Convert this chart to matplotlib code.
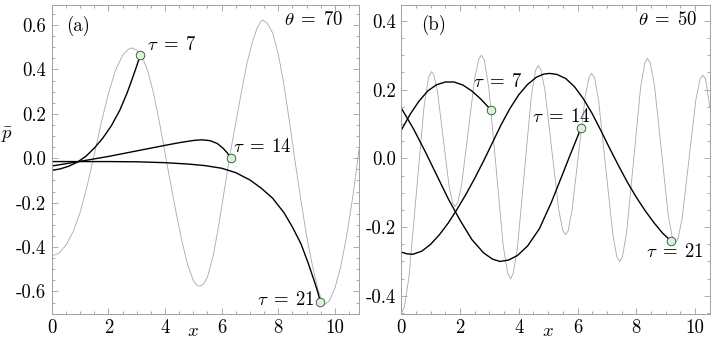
import matplotlib
matplotlib.use("Agg")
import matplotlib.pyplot as plt
from matplotlib.ticker import FixedLocator, MultipleLocator

plt.rcParams['font.family'] = 'serif'
plt.rcParams['font.serif'] = ['cmr10']
plt.rcParams['mathtext.fontset'] = 'cm'
plt.rcParams['axes.unicode_minus'] = False

# ---------------- Panel (a), theta = 70 ----------------
a_grey_x = [0, 0.25, 0.5, 0.75, 1.0, 1.25, 1.5, 1.75, 2.0, 2.25, 2.5, 2.7, 2.82,
            3.0, 3.2, 3.4, 3.6, 3.8, 4.0, 4.2, 4.4, 4.6, 4.8, 5.0, 5.12, 5.22,
            5.35, 5.5, 5.7, 5.9, 6.1, 6.3, 6.5, 6.7, 6.9, 7.1, 7.25, 7.37, 7.45,
            7.6, 7.8, 8.0, 8.2, 8.4, 8.6, 8.8, 9.0, 9.2, 9.4, 9.55, 9.65,
            9.8, 10.0, 10.2, 10.4, 10.6, 10.75, 10.85]
a_grey_y = [-0.44, -0.428, -0.392, -0.333, -0.245, -0.125, 0.015, 0.16, 0.29, 0.395, 0.463,
            0.49, 0.497,
            0.487, 0.455, 0.39, 0.29, 0.165, 0.025, -0.115, -0.25, -0.375, -0.48, -0.55,
            -0.571, -0.576,
            -0.568, -0.535, -0.44, -0.30, -0.14, 0.02, 0.16, 0.30, 0.43, 0.53, 0.585, 0.613,
            0.622,
            0.61, 0.565, 0.47, 0.33, 0.16, -0.02, -0.19, -0.35, -0.48, -0.59, -0.645, -0.658,
            -0.643, -0.585, -0.49, -0.36, -0.20, -0.06, 0.04]

a_t7_x = [0, 0.3, 0.6, 0.9, 1.2, 1.5, 1.8, 2.1, 2.4, 2.65, 2.85, 3.0, 3.13]
a_t7_y = [-0.055, -0.048, -0.036, -0.018, 0.008, 0.045, 0.090, 0.145, 0.215, 0.290, 0.360,
          0.415, 0.465]
a_t14_x = [0, 1.0, 2.0, 3.0, 4.0, 4.5, 5.0, 5.3, 5.6, 5.85, 6.05, 6.2, 6.32]
a_t14_y = [-0.035, -0.014, 0.008, 0.033, 0.058, 0.070, 0.080, 0.083, 0.079, 0.066, 0.045,
           0.024, 0.0]
a_t21_x = [0, 1, 2, 3, 4, 4.8, 5.4, 6.0, 6.5, 7.0, 7.4, 7.8, 8.2, 8.5, 8.8, 9.05, 9.25, 9.4, 9.49]
a_t21_y = [-0.015, -0.015, -0.015, -0.016, -0.020, -0.026, -0.033, -0.045, -0.065, -0.098,
           -0.135, -0.180, -0.245, -0.310, -0.385, -0.470, -0.545, -0.605, -0.648]

# ---------------- Panel (b), theta = 50 ----------------
b_grey_x = [0, 0.103, 0.258, 0.515, 0.773, 0.927, 1.03, 1.11, 1.23, 1.43, 1.63, 1.75, 1.83,
            1.92, 2.055, 2.28, 2.505, 2.64, 2.73, 2.83, 2.98, 3.225, 3.47, 3.62, 3.72, 3.81,
            3.955, 4.19, 4.425, 4.57, 4.66, 4.75, 4.89, 5.125, 5.36, 5.50, 5.59, 5.68, 5.81,
            6.035, 6.26, 6.39, 6.48, 6.58, 6.72, 6.96, 7.20, 7.34, 7.44, 7.53, 7.675, 7.91,
            8.145, 8.29, 8.38, 8.475, 8.62, 8.855, 9.09, 9.235, 9.33, 9.42, 9.56, 9.795,
            10.03, 10.17, 10.26, 10.36, 10.5]
b_grey_y = [-0.45, -0.433, -0.347, -0.099, 0.149, 0.235, 0.252, 0.242, 0.195, 0.056, -0.083,
            -0.130, -0.140, -0.129, -0.076, 0.080, 0.236, 0.289, 0.300, 0.284, 0.205, -0.025,
            -0.255, -0.334, -0.350, -0.335, -0.259, -0.040, 0.179, 0.255, 0.270, 0.258, 0.198,
            0.024, -0.150, -0.210, -0.222, -0.211, -0.153, 0.013, 0.178, 0.236, 0.247, 0.234,
            0.167, -0.027, -0.220, -0.287, -0.300, -0.286, -0.213, -0.005, 0.204, 0.277,
            0.291, 0.278, 0.212, 0.023, -0.167, -0.233, -0.246, -0.234, -0.175, -0.002,
            0.171, 0.230, 0.242, 0.232, 0.15]

b_t7_x = [0, 0.3, 0.6, 0.9, 1.2, 1.5, 1.8, 2.1, 2.4, 2.7, 3.06]
b_t7_y = [0.082, 0.128, 0.166, 0.196, 0.214, 0.222, 0.222, 0.213, 0.196, 0.173, 0.140]
b_t14_x = [0, 0.4, 0.8, 1.2, 1.6, 2.0, 2.4, 2.8, 3.1, 3.36, 3.65, 3.95, 4.3, 4.7, 5.1, 5.45,
           5.75, 6.0, 6.11]
b_t14_y = [0.146, 0.088, 0.022, -0.048, -0.118, -0.180, -0.236, -0.275, -0.293, -0.300,
           -0.296, -0.283, -0.255, -0.205, -0.130, -0.055, 0.010, 0.063, 0.087]
b_t21_x = [0, 0.2, 0.4, 0.7, 1.0, 1.3, 1.6, 1.9, 2.2, 2.5, 2.8, 3.1, 3.4, 3.7, 4.0, 4.3, 4.6,
           4.85, 5.05, 5.3, 5.6, 5.9, 6.2, 6.5, 6.8, 7.1, 7.4, 7.7, 8.0, 8.3, 8.6, 8.9, 9.18]
b_t21_y = [-0.273, -0.278, -0.279, -0.270, -0.250, -0.222, -0.188, -0.148, -0.105, -0.058,
           -0.008, 0.045, 0.098, 0.145, 0.185, 0.215, 0.236, 0.245, 0.247, 0.244, 0.232,
           0.208, 0.173, 0.130, 0.080, 0.028, -0.022, -0.070, -0.113, -0.152, -0.187,
           -0.218, -0.240]

a_yticks = [-0.6, -0.4, -0.2, 0.0, 0.2, 0.4, 0.6]
a_ylabels = ['-0.6', '-0.4', '-0.2', '0.0', '0.2', '0.4', '0.6']
b_yticks = [-0.4, -0.2, 0.0, 0.2, 0.4]
b_ylabels = ['-0.4', '-0.2', '0.0', '0.2', '0.4']
xticks = [0, 2, 4, 6, 8, 10]
xlabels = ['0', '2', '4', '6', '8', '10']

fig = plt.figure(figsize=(7.17, 3.42), dpi=100)
axA = fig.add_axes([51.7 / 717, 1 - 313.7 / 342, 307.3 / 717, 308.7 / 342])
axB = fig.add_axes([401.3 / 717, 1 - 313.7 / 342, 308.4 / 717, 308.7 / 342])

FS = 13.5
GREY = '#a8a8a8'
FRAME = '#a0a0a0'
MFC = '#d8f3d8'
MEC = '#304830'


def style(ax, xlim, ylim, yt, yl):
    ax.set_xlim(*xlim)
    ax.set_ylim(*ylim)
    ax.xaxis.set_major_locator(FixedLocator(xticks))
    ax.set_xticklabels(xlabels)
    ax.yaxis.set_major_locator(FixedLocator(yt))
    ax.set_yticklabels(yl)
    ax.xaxis.set_minor_locator(MultipleLocator(0.5))
    ax.yaxis.set_minor_locator(MultipleLocator(0.05))
    ax.tick_params(which='both', direction='in', top=True, right=True, color=FRAME,
                   width=0.6, labelsize=FS)
    ax.tick_params(which='major', length=4, pad=4)
    ax.tick_params(which='minor', length=2)
    for s in ax.spines.values():
        s.set_color(FRAME)
        s.set_linewidth(0.7)


def panel(ax, gx, gy, curves, labels):
    ax.plot(gx, gy, color=GREY, lw=0.6, zorder=1)
    for (cx, cy) in curves:
        ax.plot(cx, cy, color='black', lw=1.0, zorder=2)
        ax.plot([cx[-1]], [cy[-1]], 'o', ms=6.2, mfc=MFC, mec=MEC, mew=0.6, zorder=3)
    for (tx, ty, txt, ha) in labels:
        ax.text(tx, ty, txt, ha=ha, va='center', fontsize=FS)


panel(axA, a_grey_x, a_grey_y,
      [(a_t7_x, a_t7_y), (a_t14_x, a_t14_y), (a_t21_x, a_t21_y)],
      [(3.36, 0.511, r'$\tau\;=\;7$', 'left'),
       (6.4, 0.049, r'$\tau\;=\;14$', 'left'),
       (9.29, -0.639, r'$\tau\;=\;21$', 'right')])
style(axA, (0, 10.85), (-0.70, 0.69), a_yticks, a_ylabels)
axA.text(0.046, 0.932, '(a)', transform=axA.transAxes, ha='left', va='center', fontsize=FS)
axA.text(0.948, 0.95, r'$\theta\;=\;70$', transform=axA.transAxes, ha='right', va='center',
         fontsize=FS)
axA.text(5.0, -0.056, r'$x$', transform=axA.get_xaxis_transform(), ha='center', va='center',
         fontsize=FS)

panel(axB, b_grey_x, b_grey_y,
      [(b_t7_x, b_t7_y), (b_t14_x, b_t14_y), (b_t21_x, b_t21_y)],
      [(2.44, 0.222, r'$\tau\;=\;7$', 'left'),
       (4.45, 0.12, r'$\tau\;=\;14$', 'left'),
       (8.34, -0.273, r'$\tau\;=\;21$', 'left')])
style(axB, (0, 10.5), (-0.452, 0.446), b_yticks, b_ylabels)
axB.text(0.063, 0.935, '(b)', transform=axB.transAxes, ha='left', va='center', fontsize=FS)
axB.text(0.959, 0.95, r'$\theta\;=\;50$', transform=axB.transAxes, ha='right', va='center',
         fontsize=FS)
axB.text(5.0, -0.056, r'$x$', transform=axB.get_xaxis_transform(), ha='center', va='center',
         fontsize=FS)

fig.text(7 / 717, 1 - 135 / 342, r'$\bar{p}$', ha='center', va='center', fontsize=FS)

fig.savefig('out.png', dpi=100)
